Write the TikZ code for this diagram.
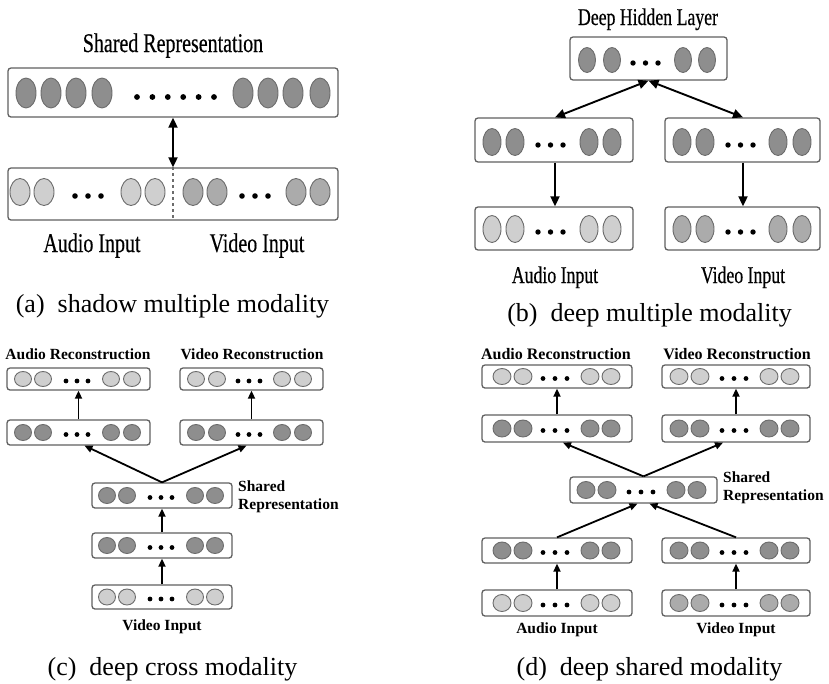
\documentclass[tikz,border=0pt]{standalone}
\usepackage{fontspec}
\setmainfont{Liberation Serif}
\newfontfamily\narrowfont[FakeStretch=0.74,FakeBold=0.4]{Liberation Serif}
\usetikzlibrary{arrows.meta,shapes.geometric}

\definecolor{unitdark}{HTML}{8E8E8E}
\definecolor{unitmid}{HTML}{ABABAB}
\definecolor{unitlight}{HTML}{CFCFCF}
\definecolor{unitedge}{HTML}{6C6C6C}
\definecolor{boxedge}{HTML}{606060}

\tikzset{
  layerbox/.style={draw=boxedge, line width=1.3pt, rounded corners=3pt, fill=white, inner sep=0pt},
  unit/.style={ellipse, draw=unitedge, line width=0.9pt, inner sep=0pt},
  biglink/.style={line width=1.9pt, {Triangle[length=10pt,width=9pt]}-{Triangle[length=10pt,width=9pt]}},
  bigarrow/.style={line width=1.8pt, -{Triangle[length=10pt,width=9pt]}},
  smallarrow/.style={line width=1.8pt, -{Triangle[length=8pt,width=7pt]}},
  biglabel/.style={anchor=base, inner sep=0pt, font=\narrowfont\fontsize{27}{30}\selectfont},
  midlabel/.style={anchor=base, inner sep=0pt, font=\narrowfont\fontsize{24}{27}\selectfont},
  boldlabel/.style={anchor=base, inner sep=0pt, font=\bfseries\fontsize{15.5}{18}\selectfont},
  subcap/.style={anchor=base, inner sep=0pt, font=\fontsize{26}{30}\selectfont}
}

% one row of units: name prefix, y, width, height, fill, list of x
\newcommand{\unitrow}[6]{%
  \foreach \ux [count=\ui] in {#6}
    \node[unit, fill=#5, minimum width=#3, minimum height=#4] (#1-\ui) at (\ux,#2) {};}
% dots between the units: y, first x, last x, how many, radius
\newcommand{\dotrow}[5][2.4]{%
  \foreach \di in {1,...,#5}
    \fill ({#3+(\di-1)*(#4-#3)/(#5-1)},#2) circle (#1);}

\begin{document}
\begin{tikzpicture}[x=1pt,y=-1pt]
\useasboundingbox (0,0) rectangle (829,683);

% (a) shadow multiple modality
\node[layerbox, minimum width=330, minimum height=49] (aShared) at (173,92.5) {};
\node[layerbox, minimum width=330, minimum height=52] (aInput) at (173,194) {};
\unitrow{aS}{93}{20}{30}{unitdark}{26,51,76,102,243,268,293,320}
\dotrow[2.9]{97}{137}{214}{6}
\unitrow{aA}{192}{20}{27}{unitlight}{20,44,131,155}
\unitrow{aV}{192}{20}{27}{unitmid}{193,217,296,320}
\dotrow[2.8]{196}{75}{101}{3}
\dotrow[2.8]{196}{242}{268}{3}
\draw[unitedge, line width=1.6pt, dash pattern=on 3pt off 3pt] (aInput.north) -- (aInput.south);
\draw[biglink] (aShared.south) -- (aInput.north);
\node[biglabel] (aSharedLbl) at (173,52) {Shared Representation};
\node[biglabel] (aAudioLbl) at (92,252) {Audio Input};
\node[biglabel] (aVideoLbl) at (257,252) {Video Input};
\node[subcap] (aCap) at (172.5,312) {(a)\enspace shadow multiple modality};

% (b) deep multiple modality
\node[layerbox, minimum width=157, minimum height=43] (bTop) at (648.5,58.5) {};
\node[layerbox, minimum width=158, minimum height=44] (bHidA) at (554,140) {};
\node[layerbox, minimum width=155, minimum height=44] (bHidV) at (742.5,140) {};
\node[layerbox, minimum width=158, minimum height=43] (bAudio) at (554,228.5) {};
\node[layerbox, minimum width=155, minimum height=43] (bVideo) at (742.5,228.5) {};
\unitrow{bT}{60}{17}{25}{unitdark}{587,612,683,707}
\dotrow[2.7]{63}{633}{658}{3}
\unitrow{bHA}{142}{18}{27}{unitdark}{492,515,589,612}
\dotrow[2.7]{145}{538}{563}{3}
\unitrow{bHV}{142}{18}{27}{unitdark}{682,705,778,802}
\dotrow[2.7]{145}{728}{753}{3}
\unitrow{bA}{229}{18}{27}{unitlight}{492,515,589,612}
\dotrow[2.7]{232}{538}{563}{3}
\unitrow{bV}{229}{18}{27}{unitmid}{682,705,778,802}
\dotrow[2.7]{232}{728}{753}{3}
\draw[biglink] (bTop.south) -- ([xshift=1]bHidA.north);
\draw[biglink] (bTop.south) -- ([xshift=0.5]bHidV.north);
\draw[bigarrow] ([xshift=1]bHidA.south) -- ([xshift=1]bAudio.north);
\draw[bigarrow] ([xshift=0.5]bHidV.south) -- ([xshift=0.5]bVideo.north);
\node[midlabel] (bTopLbl) at (648,25) {Deep Hidden Layer};
\node[midlabel] (bAudioLbl) at (555,283) {Audio Input};
\node[midlabel] (bVideoLbl) at (743,283) {Video Input};
\node[subcap] (bCap) at (649.5,321) {(b)\enspace deep multiple modality};

% (c) deep cross modality
\node[layerbox, minimum width=143, minimum height=22] (cAudRec) at (78.5,379) {};
\node[layerbox, minimum width=143, minimum height=22] (cVidRec) at (251.5,379) {};
\node[layerbox, minimum width=143, minimum height=25] (cHidA) at (78.5,432.5) {};
\node[layerbox, minimum width=143, minimum height=25] (cHidV) at (251.5,432.5) {};
\node[layerbox, minimum width=140, minimum height=25] (cShared) at (162,495.5) {};
\node[layerbox, minimum width=140, minimum height=25] (cHid) at (162,545.5) {};
\node[layerbox, minimum width=140, minimum height=24] (cVidIn) at (162,597) {};
\unitrow{cAR}{379}{17}{15}{unitlight}{23,43,111,132}
\dotrow{381}{66}{88}{3}
\unitrow{cVR}{379}{17}{15}{unitlight}{196,217,282,303}
\dotrow{381}{238}{260}{3}
\unitrow{cHA}{432.5}{17}{16}{unitdark}{23,43,111,132}
\dotrow{434.5}{66}{88}{3}
\unitrow{cHV}{432.5}{17}{16}{unitdark}{196,217,282,303}
\dotrow{434.5}{238}{260}{3}
\unitrow{cS}{495.5}{17}{16}{unitdark}{107,127,195,215}
\dotrow{497.5}{150}{172}{3}
\unitrow{cH}{545.5}{17}{16}{unitdark}{107,127,195,215}
\dotrow{547.5}{150}{172}{3}
\unitrow{cV}{597}{17}{16}{unitlight}{107,127,195,215}
\dotrow{599}{150}{172}{3}
\draw[smallarrow] (cHidA.north) -- (cAudRec.south);
\draw[smallarrow] (cHidV.north) -- (cVidRec.south);
\draw[smallarrow] (cShared.north) -- ([xshift=6]cHidA.south);
\draw[smallarrow] (cShared.north) -- ([xshift=-5]cHidV.south);
\draw[smallarrow] (cHid.north) -- (cShared.south);
\draw[smallarrow] (cVidIn.north) -- (cHid.south);
\node[boldlabel] (cAudRecLbl) at (78,359) {Audio Reconstruction};
\node[boldlabel] (cVidRecLbl) at (252,359) {Video Reconstruction};
\node[boldlabel, anchor=base west] (cSharedLbl) at (238,491) {Shared};
\node[boldlabel, anchor=base west] (cSharedLbl2) at (238,509) {Representation};
\node[boldlabel] (cVidInLbl) at (162,630) {Video Input};
\node[subcap] (cCap) at (172.5,675) {(c)\enspace deep cross modality};

% (d) deep shared modality
\node[layerbox, minimum width=150, minimum height=23] (dAudRec) at (557,376.5) {};
\node[layerbox, minimum width=148, minimum height=23] (dVidRec) at (736,376.5) {};
\node[layerbox, minimum width=150, minimum height=27] (dHidAR) at (557,428.5) {};
\node[layerbox, minimum width=148, minimum height=27] (dHidVR) at (736,428.5) {};
\node[layerbox, minimum width=147, minimum height=26] (dShared) at (643.5,490) {};
\node[layerbox, minimum width=150, minimum height=25] (dHidA) at (557,550.5) {};
\node[layerbox, minimum width=148, minimum height=25] (dHidV) at (736,550.5) {};
\node[layerbox, minimum width=150, minimum height=26] (dAudIn) at (557,603) {};
\node[layerbox, minimum width=148, minimum height=26] (dVidIn) at (736,603) {};
\unitrow{dAR}{376.5}{18}{16}{unitlight}{502,523,590,611}
\dotrow{378.5}{543}{567}{3}
\unitrow{dVR}{376.5}{18}{16}{unitlight}{679,700,769,790}
\dotrow{378.5}{722}{746}{3}
\unitrow{dHAR}{428.5}{18}{17}{unitdark}{502,523,590,611}
\dotrow{430.5}{543}{567}{3}
\unitrow{dHVR}{428.5}{18}{17}{unitdark}{679,700,769,790}
\dotrow{430.5}{722}{746}{3}
\unitrow{dS}{490}{18}{17}{unitdark}{586,607,676,697}
\dotrow{492}{629}{653}{3}
\unitrow{dHA}{550.5}{18}{17}{unitdark}{502,523,590,611}
\dotrow{552.5}{543}{567}{3}
\unitrow{dHV}{550.5}{18}{17}{unitdark}{679,700,769,790}
\dotrow{552.5}{722}{746}{3}
\unitrow{dA}{603}{18}{17}{unitlight}{502,523,590,611}
\dotrow{605}{543}{567}{3}
\unitrow{dV}{603}{18}{17}{unitmid}{679,700,769,790}
\dotrow{605}{722}{746}{3}
\draw[smallarrow] (dHidAR.north) -- (dAudRec.south);
\draw[smallarrow] (dHidVR.north) -- (dVidRec.south);
\draw[smallarrow] (dShared.north) -- ([xshift=6]dHidAR.south);
\draw[smallarrow] (dShared.north) -- ([xshift=-13]dHidVR.south);
\draw[smallarrow] (dHidA.north) -- ([xshift=-6]dShared.south);
\draw[smallarrow] (dHidV.north) -- ([xshift=6]dShared.south);
\draw[smallarrow] (dAudIn.north) -- (dHidA.south);
\draw[smallarrow] (dVidIn.north) -- (dHidV.south);
\node[boldlabel, font=\bfseries\fontsize{16}{18}\selectfont] (dAudRecLbl) at (556,359) {Audio Reconstruction};
\node[boldlabel, font=\bfseries\fontsize{16}{18}\selectfont] (dVidRecLbl) at (737,359) {Video Reconstruction};
\node[boldlabel, anchor=base west] (dSharedLbl) at (723,482) {Shared};
\node[boldlabel, anchor=base west] (dSharedLbl2) at (723,500) {Representation};
\node[boldlabel] (dAudInLbl) at (557,633) {Audio Input};
\node[boldlabel] (dVidInLbl) at (736,633) {Video Input};
\node[subcap] (dCap) at (649.5,675) {(d)\enspace deep shared modality};
\end{tikzpicture}
\end{document}
